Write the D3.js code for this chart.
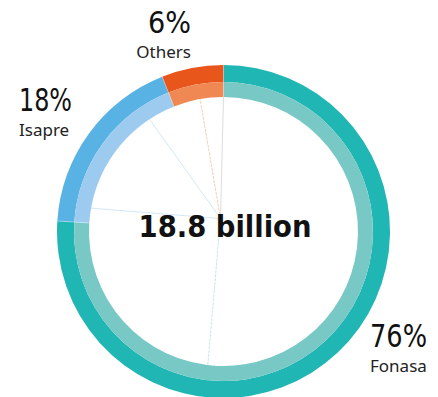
<!DOCTYPE html>
<html>
<head>
<meta charset="utf-8">
<script src="https://cdn.jsdelivr.net/npm/d3@7"></script>
<style>
  html, body { margin: 0; padding: 0; background: #fff; }
  svg { display: block; }
</style>
</head>
<body>
<script>
// ---- data ----
const categories = ["Fonasa", "Isapre", "Others"];
const shares = [76, 18, 6];
const percentLabels = ["76%", "18%", "6%"];
const totalLabel = "18.8 billion";
const guideAngles = [0, 186.7, 280, 326.6, 350];   // faint radial guides (degrees)
const guideSeries = ["Others", "Fonasa", "Isapre", "Isapre", "Others"];

// ---- styles ----
const W = 438, H = 397;
const cx = 223.5, cy = 231.5;
const R = 166.5, rMid = 149.5, rIn = 134.5;
const darkColors = { Fonasa: "#20b6b4", Isapre: "#58b3e4", Others: "#e9561b" };
const lightColors = { Fonasa: "#78c8c6", Isapre: "#9dcbef", Others: "#f08854" };
const guideColors = { Fonasa: "#c4e9e9", Isapre: "#d3e8f6", Others: "#f8cdb5" };

const svg = d3.select("body").append("svg").attr("width", W).attr("height", H);
const g = svg.append("g").attr("transform", `translate(${cx},${cy})`);

const pie = d3.pie().sort(null).value(d => d.v).startAngle(0).endAngle(2 * Math.PI);
const data = pie(categories.map((c, i) => ({ c, v: shares[i] })));

// faint guides
const origin = [-3, -13];
g.selectAll("line.guide").data(guideAngles).enter().append("line")
  .attr("x1", origin[0]).attr("y1", origin[1])
  .attr("x2", a => rIn * Math.sin(a * Math.PI / 180))
  .attr("y2", a => -rIn * Math.cos(a * Math.PI / 180))
  .attr("stroke", (a, i) => i === 0 ? "#dddddd" : guideColors[guideSeries[i]])
  .attr("stroke-width", 1)
  .attr("stroke-dasharray", (a, i) => (guideSeries[i] === "Isapre" || i === 0) ? null : "3,1");

const outerArc = d3.arc().innerRadius(rMid).outerRadius(R);
const innerArc = d3.arc().innerRadius(rIn).outerRadius(rMid);

g.selectAll("path.outer").data(data).enter().append("path")
  .attr("d", outerArc).attr("fill", d => darkColors[d.data.c]);
g.selectAll("path.inner").data(data).enter().append("path")
  .attr("d", innerArc).attr("fill", d => lightColors[d.data.c]);
// thin separators at slice boundaries
g.selectAll("line.sep").data(data).enter().append("line")
  .attr("x1", d => rIn * Math.sin(d.startAngle)).attr("y1", d => -rIn * Math.cos(d.startAngle))
  .attr("x2", d => R * Math.sin(d.startAngle)).attr("y2", d => -R * Math.cos(d.startAngle))
  .attr("stroke", "#fff").attr("stroke-opacity", 0.5).attr("stroke-width", 0.6);

// center total
svg.append("text").attr("x", cx + 1.5).attr("y", 237)
  .attr("text-anchor", "middle")
  .attr("font-family", "'DejaVu Sans Condensed', 'DejaVu Sans', sans-serif")
  .attr("font-weight", "bold").attr("font-stretch", "condensed")
  .attr("font-size", 30.5).attr("fill", "#111")
  .text(totalLabel);

// labels
const labelPos = {
  Fonasa: { x: 370, y: 347, anchor: "start", size: 32.5, w: 57 },
  Isapre: { x: 19, y: 111, anchor: "start", size: 32.5, w: 53 },
  Others: { x: 191, y: 33, anchor: "end", size: 30, w: 43 }
};
const lab = svg.selectAll("g.lab").data(categories).enter().append("g");
lab.append("text")
  .attr("x", c => labelPos[c].x).attr("y", c => labelPos[c].y)
  .attr("text-anchor", c => labelPos[c].anchor)
  .attr("font-family", "'DejaVu Sans Condensed', sans-serif")
  .attr("font-stretch", "condensed")
  .attr("font-size", c => labelPos[c].size).attr("fill", "#111")
  .attr("textLength", c => labelPos[c].w)
  .attr("lengthAdjust", "spacingAndGlyphs")
  .text((c, i) => percentLabels[i]);
lab.append("text")
  .attr("x", c => labelPos[c].x).attr("y", c => labelPos[c].y + 24.5)
  .attr("text-anchor", c => labelPos[c].anchor)
  .attr("font-family", "'Noto Sans', sans-serif")
  .attr("font-size", 17).attr("fill", "#222")
  .text(c => c);
</script>
</body>
</html>
